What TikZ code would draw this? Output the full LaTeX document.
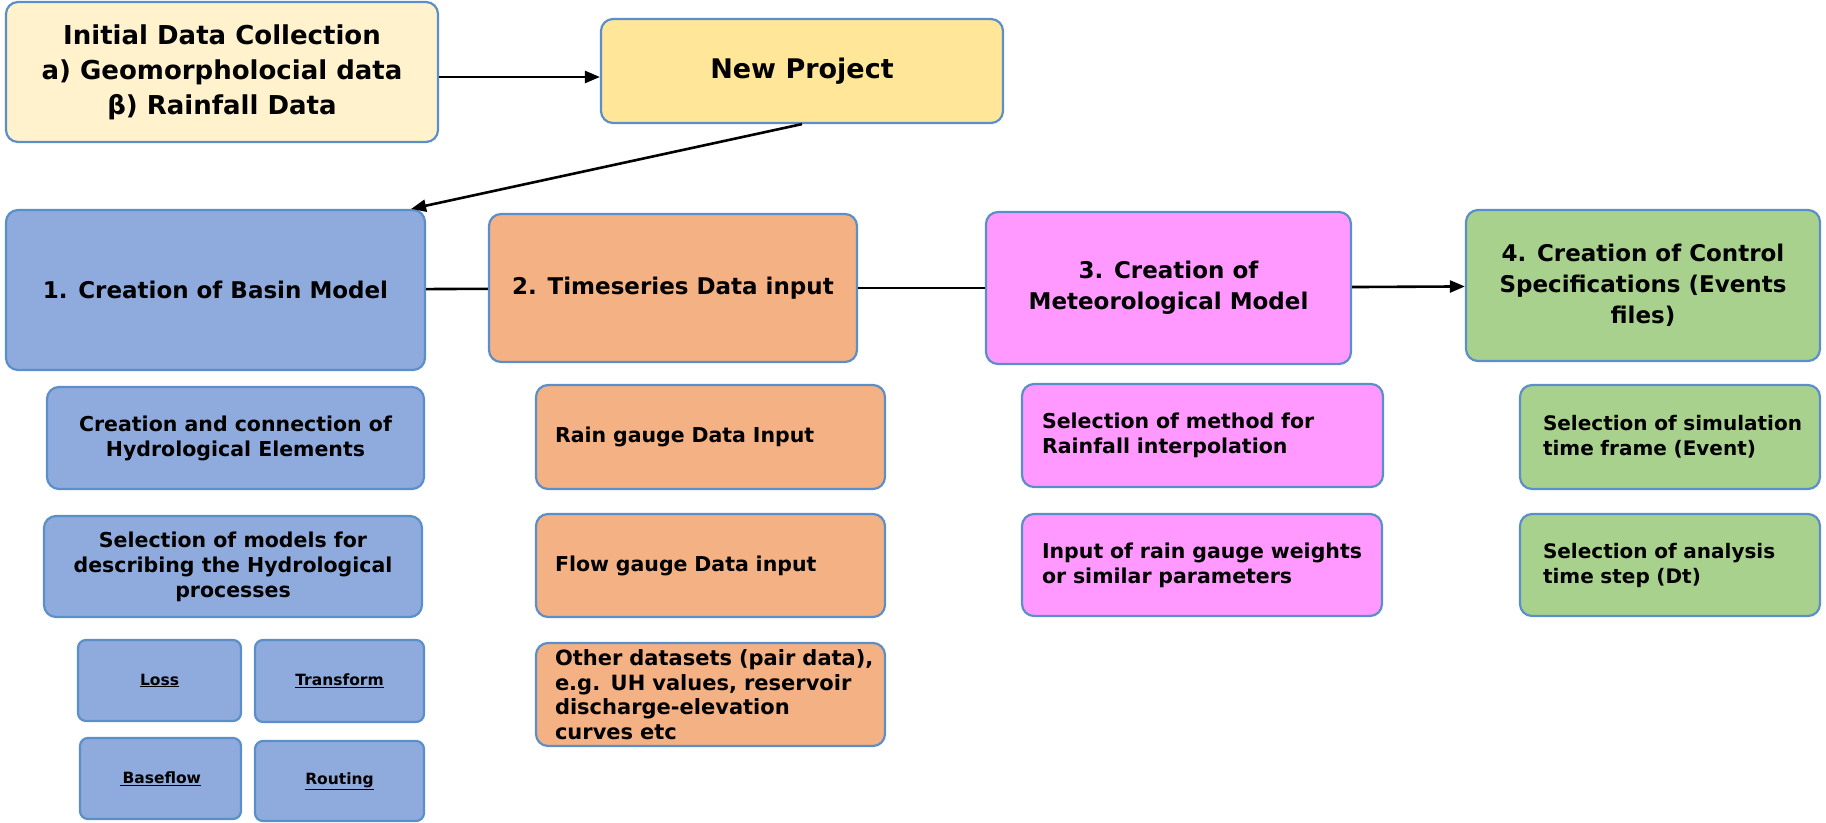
\documentclass[tikz,border=0pt]{standalone}
\usepackage{fontspec}
\setmainfont{DejaVu Sans}
\usetikzlibrary{arrows.meta}

\definecolor{edgeblue}{HTML}{5B8FC9}
\definecolor{initfill}{HTML}{FFF2CC}
\definecolor{projfill}{HTML}{FFE699}
\definecolor{basinfill}{HTML}{8FAADC}
\definecolor{seriesfill}{HTML}{F4B183}
\definecolor{meteofill}{HTML}{FF99FF}
\definecolor{ctrlfill}{HTML}{A9D18E}

\begin{document}
\begin{tikzpicture}[x=1pt,y=-1pt,
    box/.style={draw=edgeblue,line width=2.2pt,rounded corners=12pt,align=center,inner sep=3pt},
    title/.style={box,font=\fontsize{23}{31}\selectfont\bfseries},
    sub/.style={box,font=\fontsize{20.5}{25}\selectfont\bfseries},
    leftsub/.style={sub,align=left,execute at begin node={\leftskip=#1\relax}},
    small/.style={box,rounded corners=8pt,font=\fontsize{15.5}{18}\selectfont\bfseries},
    link/.style={line width=2.6pt},
    arrow/.style={link,-{Triangle[length=15pt,width=12pt]}}]
    \useasboundingbox (0,0) rectangle (1826,822);

    \node[box,fill=initfill,minimum width=432pt,minimum height=140pt,
        font=\fontsize{26}{35}\selectfont\bfseries] (init) at (222,72)
        {Initial Data Collection\\a) Geomorpholocial data\\β) Rainfall Data};
    \node[box,fill=projfill,minimum width=402pt,minimum height=104pt,
        font=\fontsize{27}{32}\selectfont\bfseries] (proj) at (802,71) {New Project};

    % main steps
    \node[title,fill=basinfill,minimum width=419pt,minimum height=160pt] (basin) at (215.5,290)
        {1. Creation of Basin Model};
    \node[title,fill=seriesfill,minimum width=368pt,minimum height=148pt] (series) at (673,288)
        {2. Timeseries Data input};
    \node[title,fill=meteofill,minimum width=365pt,minimum height=152pt] (meteo) at (1168.5,288)
        {3. Creation of\\Meteorological Model};
    \node[title,fill=ctrlfill,minimum width=354pt,minimum height=151pt] (ctrl) at (1643,285.5)
        {4. Creation of Control\\Specifications (Events\\files)};

    \draw[arrow] (init.east |- 0,77) -- (proj.west |- 0,77);
    \draw[arrow] (proj.south) -- ([xshift=-15pt]basin.north east);
    \draw[link] (basin) -- (series);
    \draw[link] (series) -- (meteo);
    \draw[arrow] (meteo) -- (ctrl);

    % basin model
    \node[sub,fill=basinfill,minimum width=377pt,minimum height=102pt] (elems) at (235.5,438)
        {Creation and connection of\\Hydrological Elements};
    \node[sub,fill=basinfill,minimum width=378pt,minimum height=101pt] (procs) at (233,566.5)
        {Selection of models for\\describing the Hydrological\\processes};
    \node[small,fill=basinfill,minimum width=163pt,minimum height=81pt] (loss) at (159.5,680.5)
        {\underline{Loss}};
    \node[small,fill=basinfill,minimum width=169pt,minimum height=82pt] (transform) at (339.5,681)
        {\underline{Transform}};
    \node[small,fill=basinfill,minimum width=161pt,minimum height=81pt] (baseflow) at (160.5,778.5)
        {\underline{\,Baseflow}};
    \node[small,fill=basinfill,minimum width=169pt,minimum height=80pt] (routing) at (339.5,781)
        {\underline{Routing}};

    % timeseries
    \node[leftsub=16pt,fill=seriesfill,text width=343pt,minimum height=104pt] (rain) at (710.5,437)
        {Rain gauge Data Input};
    \node[leftsub=16pt,fill=seriesfill,text width=343pt,minimum height=103pt] (flow) at (710.5,565.5)
        {Flow gauge Data input};
    \node[leftsub=16pt,fill=seriesfill,text width=343pt,inner ysep=2pt,minimum height=103pt,
        font=\fontsize{21}{24.5}\selectfont\bfseries] (pairs) at (710.5,694.5)
        {Other datasets (pair data),\\e.g. UH values, reservoir\\discharge-elevation\\curves etc};

    % meteorological model
    \node[leftsub=17pt,fill=meteofill,text width=355pt,minimum height=103pt] (interp) at (1202.5,435.5)
        {Selection of method for\\Rainfall interpolation};
    \node[leftsub=17pt,fill=meteofill,text width=354pt,minimum height=102pt] (weights) at (1202,565)
        {Input of rain gauge weights\\or similar parameters};

    % control specifications
    \node[leftsub=20pt,fill=ctrlfill,text width=294pt,minimum height=104pt,
        font=\fontsize{20}{25}\selectfont\bfseries] (event) at (1670,437)
        {Selection of simulation\\time frame (Event)};
    \node[leftsub=20pt,fill=ctrlfill,text width=294pt,minimum height=102pt,
        font=\fontsize{20}{25}\selectfont\bfseries] (dt) at (1670,565)
        {Selection of analysis\\time step (Dt)};
\end{tikzpicture}
\end{document}
